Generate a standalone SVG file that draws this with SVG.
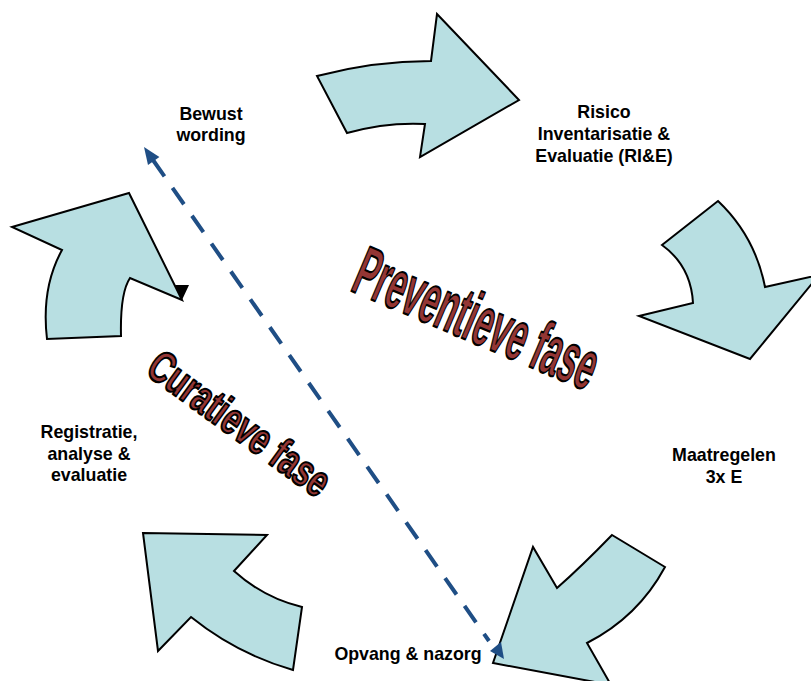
<svg xmlns="http://www.w3.org/2000/svg" width="811" height="681" viewBox="0 0 811 681">
<style>
.arr{fill:#b8dfe2;stroke:#000;stroke-width:2;stroke-linejoin:miter}
.lbl{font-family:"Liberation Sans",Arial,sans-serif;font-weight:bold;font-size:17.8px;fill:#000;text-anchor:middle}
.wa{font-family:"Liberation Sans",Arial,sans-serif;font-weight:bold;fill:#943634;stroke:#000;stroke-width:2.2;stroke-linejoin:round}
.dash{fill:none;stroke:#1f4e85;stroke-width:4;stroke-dasharray:20 14}
</style>
<rect width="811" height="681" fill="#fff"/>
<g id="arrow-top">
<path class="arr" d="M317,76 Q374,61 431,61 L437,14 L519,100 L420,157 L425,124 Q386,122 347,133 Z"/>
</g>
<g id="arrow-right">
<path class="arr" d="M662,245 L718,201 Q755,236 765,287 L819,275 L750,359 L639,316 L693,303 Q691,266 662,245 Z"/>
</g>
<g id="arrow-bottom-right">
<path class="arr" d="M612,535 L665,567 Q638,617 587,643 L611,685 L493,663 L533,547 L557,588 Q581,567 612,535 Z"/>
</g>
<g id="arrow-bottom-left">
<path class="arr" d="M143,533 L267,535 L234,571 Q264,598 302,607 L293,670 Q237,654 191,617 L158,651 Z"/>
</g>
<g id="arrow-left">
<path class="arr" d="M12,227 L129,193 L182,300 L130,278 Q120,293 121,336 L47,339 Q41,288 62,250 Z"/>
</g>
<g id="label-bewust">
<text class="lbl" x="211" y="120">Bewust</text>
<text class="lbl" x="211" y="141">wording</text>
</g>
<g id="label-rie">
<text class="lbl" x="604" y="118">Risico</text>
<text class="lbl" x="604" y="140">Inventarisatie &amp;</text>
<text class="lbl" x="604" y="162">Evaluatie (RI&amp;E)</text>
</g>
<g id="label-maatregelen">
<text class="lbl" x="724" y="461">Maatregelen</text>
<text class="lbl" x="724" y="483">3x E</text>
</g>
<g id="label-opvang">
<text class="lbl" x="408" y="660">Opvang &amp; nazorg</text>
</g>
<g id="label-registratie">
<text class="lbl" x="89" y="438">Registratie,</text>
<text class="lbl" x="89" y="460">analyse &amp;</text>
<text class="lbl" x="89" y="481">evaluatie</text>
</g>
<g id="wordart-preventief">
<text class="wa" font-size="70" transform="translate(349,290) rotate(23)" textLength="258" lengthAdjust="spacingAndGlyphs">Preventieve fase</text>
</g>
<g id="wordart-curatief">
<text class="wa" font-size="45" transform="translate(144,373) rotate(36)" textLength="214" lengthAdjust="spacingAndGlyphs">Curatieve fase</text>
</g>
<g id="connectors">
<line class="dash" x1="153" y1="160" x2="489" y2="641"/>
<polygon points="144,147 159.4,156.9 148,164.9" fill="#1f4e85"/>
<polygon points="490,651 501,642 504,659" fill="#1f4e85"/>
<polygon points="175,285 189,285 182,300" fill="#000"/>
</g>
</svg>
